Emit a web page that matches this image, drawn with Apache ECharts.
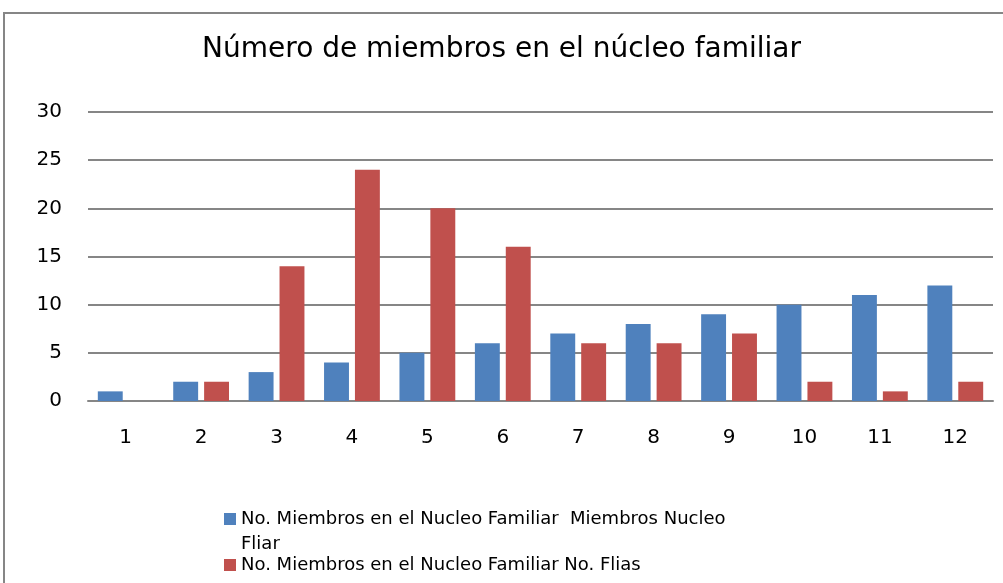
<!DOCTYPE html>
<html>
<head>
<meta charset="utf-8">
<script src="https://cdn.jsdelivr.net/npm/echarts@6/dist/echarts.min.js"></script>
<style>
  html, body { margin: 0; padding: 0; background: #fff; }
  #chart { width: 1003px; height: 583px; }
</style>
</head>
<body>
<div id="chart"></div>
<script>
var categories = ['1', '2', '3', '4', '5', '6', '7', '8', '9', '10', '11', '12'];
var miembrosNucleo = [1, 2, 3, 4, 5, 6, 7, 8, 9, 10, 11, 12];
var numFlias = [0, 2, 14, 24, 20, 16, 6, 6, 7, 2, 1, 2];
var nameMiembros = 'No. Miembros en el Nucleo Familiar  Miembros Nucleo Fliar';
var nameFlias = 'No. Miembros en el Nucleo Familiar No. Flias';

var font = 'DejaVu Sans';
var myChart = echarts.init(document.getElementById('chart'));

var option = {
  animation: false,
  backgroundColor: '#fff',
  title: {
    text: 'Número de miembros en el núcleo familiar',
    left: 'center',
    top: 31,
    textStyle: { fontFamily: font, fontSize: 28, fontWeight: 'normal', color: '#000' }
  },
  graphic: [{
    type: 'rect',
    shape: { x: 4, y: 13, width: 1010, height: 600 },
    style: { fill: 'none', stroke: '#868686', lineWidth: 2 },
    silent: true
  }],
  legend: [{
    data: [nameMiembros],
    left: 219,
    top: 480,
    itemWidth: 12,
    itemHeight: 12,
    icon: 'rect',
    // empty top line keeps the marker level with the first text line
    formatter: function () {
      return '{s| }\n{t|No. Miembros en el Nucleo Familiar  Miembros Nucleo}\n{t|Fliar}';
    },
    textStyle: {
      fontFamily: font, fontSize: 18, color: '#000',
      rich: {
        s: { fontFamily: font, fontSize: 18, lineHeight: 25 },
        t: { fontFamily: font, fontSize: 18, lineHeight: 25, color: '#000' }
      }
    }
  }, {
    data: [nameFlias],
    left: 219,
    top: 551,
    itemWidth: 12,
    itemHeight: 12,
    icon: 'rect',
    textStyle: { fontFamily: font, fontSize: 18, color: '#000' }
  }],
  grid: { left: 88, right: 10, top: 112, bottom: 182 },
  xAxis: {
    type: 'category',
    data: categories,
    axisLine: { lineStyle: { color: '#868686', width: 2 } },
    axisTick: { show: false },
    axisLabel: { fontFamily: font, fontSize: 20, color: '#000', margin: 27 }
  },
  yAxis: {
    type: 'value',
    min: 0,
    max: 30,
    interval: 5,
    axisLine: { show: false },
    axisTick: { show: false },
    axisLabel: { fontFamily: font, fontSize: 20, color: '#000', margin: 26 },
    splitLine: { lineStyle: { color: '#868686', width: 2 } }
  },
  series: [{
    name: nameMiembros,
    type: 'bar',
    data: miembrosNucleo,
    itemStyle: { color: '#4F81BD' },
    barGap: '24%',
    barCategoryGap: '26%'
  }, {
    name: nameFlias,
    type: 'bar',
    data: numFlias,
    itemStyle: { color: '#C0504D' },
    barGap: '24%',
    barCategoryGap: '26%'
  }]
};

myChart.setOption(option);
</script>
</body>
</html>
